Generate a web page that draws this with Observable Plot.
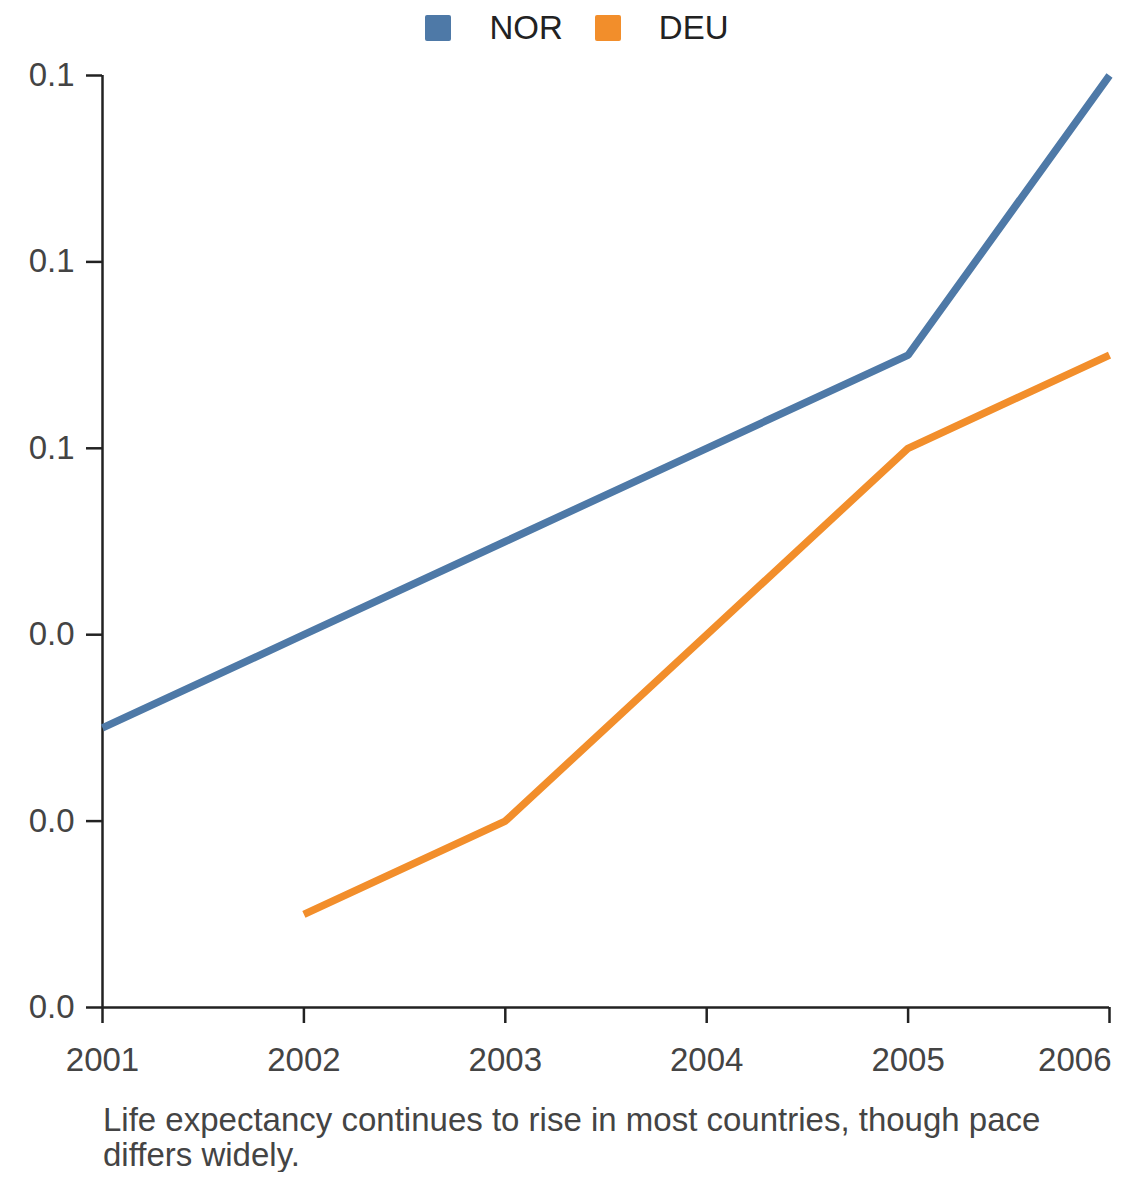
<!DOCTYPE html>
<html>
<head>
<meta charset="utf-8">
<script src="https://cdn.jsdelivr.net/npm/d3@7"></script>
<script src="https://cdn.jsdelivr.net/npm/@observablehq/plot@0.6"></script>
<style>
  html, body { margin: 0; padding: 0; background: #fff; }
  body { width: 1140px; font-family: "Liberation Sans", Arial, sans-serif; }
  #legend { height: 56px; display: flex; justify-content: center; align-items: center; font-size: 33px; color: #222; padding-left: 14px; }
  .item { display: flex; align-items: center; margin: 0 16px; }
  .sw { width: 26px; height: 26px; border-radius: 2px; margin-right: 38px; }
  #caption { margin: 2px 0 0 103px; width: 970px; font-size: 33px; line-height: 35px; color: #444; }
  svg g[aria-label$="tick label"] { fill: #444; }
  svg g[aria-label$="axis tick"] { stroke: #222; stroke-width: 2.5px; }
</style>
</head>
<body>
<div id="legend"></div>
<div id="chart"></div>
<div id="caption"></div>
<script>
const years = [2001, 2002, 2003, 2004, 2005, 2006];
const countries = ["NOR", "DEU"];
const colors = ["#4e79a7", "#f28e2b"];
const nor = [0.03, 0.04, 0.05, 0.06, 0.07, 0.10];
const deu = [null, 0.01, 0.02, 0.04, 0.06, 0.07];
const yTicks = [0, 0.02, 0.04, 0.06, 0.08, 0.10];
const captionText = "Life expectancy continues to rise in most countries, though pace differs widely.";

const series = {NOR: nor, DEU: deu};
const data = [];
for (const c of countries) {
  series[c].forEach((v, i) => { if (v != null) data.push({country: c, year: years[i], value: v}); });
}

const legend = document.getElementById("legend");
countries.forEach((c, i) => {
  const it = document.createElement("div");
  it.className = "item";
  const sw = document.createElement("div");
  sw.className = "sw";
  sw.style.background = colors[i];
  const t = document.createElement("span");
  t.textContent = c;
  it.appendChild(sw); it.appendChild(t);
  legend.appendChild(it);
});

const lastYear = years[years.length - 1];
const chart = Plot.plot({
  width: 1140,
  height: 1044,
  marginTop: 19,
  marginBottom: 93,
  marginLeft: 102,
  marginRight: 31,
  style: {fontFamily: '"Liberation Sans", Arial, sans-serif', color: "#222", background: "#fff"},
  x: {domain: [years[0], lastYear]},
  y: {domain: [0, 0.1]},
  color: {domain: countries, range: colors},
  marks: [
    Plot.axisX({ticks: years, tickFormat: d3.format("d"), tickSize: 16, tickPadding: 24, fontSize: 33, label: null, text: null}),
    Plot.axisX({ticks: years.slice(0, -1), tickFormat: d3.format("d"), fontSize: 33, label: null, tickSize: 0, tickPadding: 40}),
    Plot.axisX({ticks: [lastYear], tickFormat: d3.format("d"), tickSize: 0, tickPadding: 40, fontSize: 33, label: null, textAnchor: "end", dx: 2}),
    Plot.axisY({ticks: yTicks, tickFormat: d3.format(".1f"), tickSize: 16, tickPadding: 12, fontSize: 33, label: null}),
    Plot.ruleY([0], {stroke: "#222", strokeWidth: 2.5}),
    Plot.ruleX([years[0]], {y1: 0, y2: 0.1, stroke: "#222", strokeWidth: 2.5}),
    Plot.line(data, {x: "year", y: "value", z: "country", stroke: "country", strokeWidth: 7.5, strokeLinecap: "butt", strokeLinejoin: "miter"})
  ]
});
document.getElementById("chart").appendChild(chart);
document.getElementById("caption").textContent = captionText;
</script>
</body>
</html>
